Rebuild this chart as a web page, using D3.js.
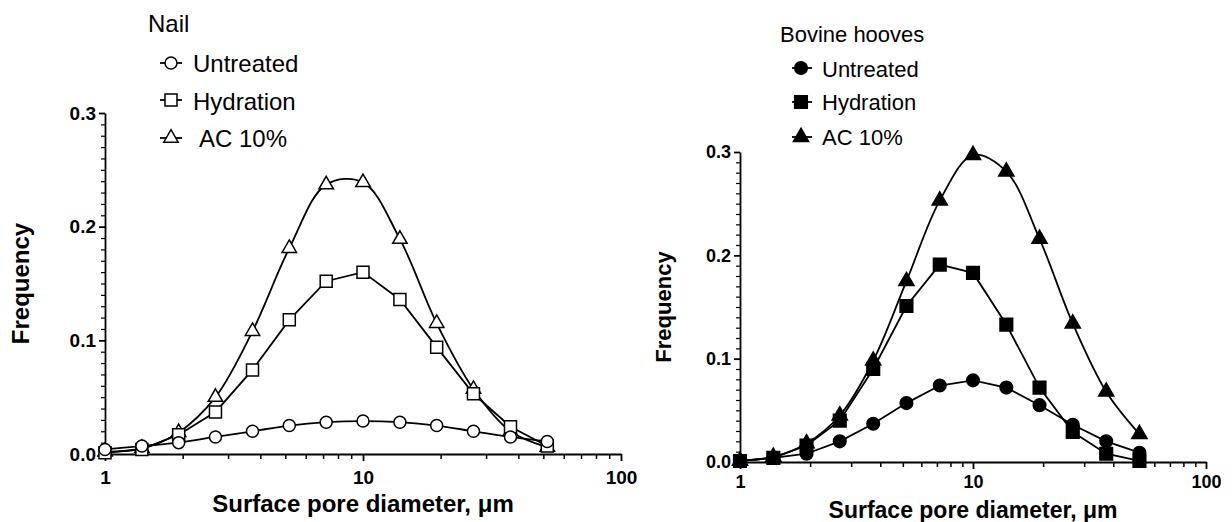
<!DOCTYPE html>
<html>
<head>
<meta charset="utf-8">
<script src="https://cdn.jsdelivr.net/npm/d3@7"></script>
<style>
  html, body { margin: 0; padding: 0; background: #fff; }
  svg { display: block; font-family: "Liberation Sans", Arial, sans-serif; }
</style>
</head>
<body>
<svg id="chart" width="1232" height="522"></svg>
<script>
// ---------- data ----------
const poreDiameters = [1, 1.39, 1.93, 2.68, 3.73, 5.18, 7.2, 10, 13.9, 19.3, 26.8, 37.3, 51.8];
const seriesNames = ["Untreated", "Hydration", "AC 10%"];

const nailUntreated = [0.004, 0.007, 0.010, 0.015, 0.020, 0.025, 0.028, 0.029, 0.028, 0.025, 0.020, 0.015, 0.011];
const nailHydration = [0.001, 0.004, 0.017, 0.037, 0.074, 0.118, 0.152, 0.160, 0.136, 0.094, 0.053, 0.024, 0.007];
const nailAC10      = [0.002, 0.005, 0.019, 0.050, 0.108, 0.181, 0.237, 0.239, 0.189, 0.115, 0.057, 0.020, 0.006];

const hoofUntreated = [0.001, 0.004, 0.008, 0.020, 0.037, 0.057, 0.074, 0.079, 0.072, 0.055, 0.036, 0.020, 0.009];
const hoofHydration = [0.001, 0.004, 0.016, 0.040, 0.090, 0.151, 0.191, 0.183, 0.133, 0.072, 0.029, 0.008, 0.001];
const hoofAC10      = [0.001, 0.005, 0.018, 0.045, 0.098, 0.175, 0.253, 0.297, 0.281, 0.216, 0.134, 0.068, 0.027];

const panelTitles = ["Nail", "Bovine hooves"];
const xTickValues = [1, 10, 100];
const yTickValues = [0.0, 0.1, 0.2, 0.3];
const xTitle = "Surface pore diameter, \u03bcm";
const yTitle = "Frequency";

// ---------- drawing ----------
const svg = d3.select("#chart");
const xMinor = [];
for (let d = 1; d < 100; d *= 10) for (let k = 2; k <= 9; k++) xMinor.push(d * k);
const yMinor = d3.range(0, 31).map(i => i / 100).filter(v => Math.round(v * 100) % 10 !== 0);

function drawPanel(cfg) {
  const g = svg.append("g");
  const x = d3.scaleLog().domain([1, 100]).range(cfg.xRange);
  const y = d3.scaleLinear().domain([0, 0.3]).range(cfg.yRange);
  const x0 = cfg.xRange[0], y0 = cfg.yRange[0];

  // minor ticks
  g.append("g").attr("transform", `translate(0,${y0})`)
    .call(d3.axisBottom(x).tickValues(xMinor).tickSize(5).tickSizeOuter(0).tickFormat(""))
    .call(a => a.select(".domain").remove())
    .selectAll("line").attr("stroke-width", 1.5);
  g.append("g").attr("transform", `translate(${x0},0)`)
    .call(d3.axisLeft(y).tickValues(yMinor).tickSize(4).tickSizeOuter(0).tickFormat(""))
    .call(a => a.select(".domain").remove())
    .selectAll("line").attr("stroke-width", 1.2);

  // major axes
  const xa = g.append("g").attr("transform", `translate(0,${y0})`)
    .call(d3.axisBottom(x).tickValues(xTickValues).tickSize(7).tickSizeOuter(0)
      .tickPadding(cfg.xTickPad).tickFormat(d3.format("d")));
  xa.select(".domain").attr("stroke-width", 1.8);
  xa.selectAll("line").attr("stroke-width", 1.8);
  xa.selectAll("text").attr("font-size", cfg.tickFont).attr("font-weight", "bold")
    .attr("font-family", "Liberation Sans, Arial, sans-serif");

  const ya = g.append("g").attr("transform", `translate(${x0},0)`)
    .call(d3.axisLeft(y).tickValues(yTickValues).tickSize(6).tickSizeOuter(0)
      .tickPadding(3).tickFormat(d3.format(".1f")));
  ya.select(".domain").attr("stroke-width", 1.8);
  ya.selectAll("line").attr("stroke-width", 1.8);
  ya.selectAll("text").attr("font-size", cfg.tickFont).attr("font-weight", "bold")
    .attr("font-family", "Liberation Sans, Arial, sans-serif");

  // axis titles
  g.append("text").attr("x", (cfg.xRange[0] + cfg.xRange[1]) / 2).attr("y", cfg.xTitleY)
    .attr("text-anchor", "middle").attr("font-weight", "bold").attr("font-size", cfg.xTitleFont)
    .text(xTitle);
  g.append("text")
    .attr("transform", `translate(${cfg.yTitleX},${(cfg.yRange[0] + cfg.yRange[1]) / 2}) rotate(-90)`)
    .attr("text-anchor", "middle").attr("font-weight", "bold").attr("font-size", cfg.yTitleFont)
    .text(yTitle);

  // series (drawn AC first so Untreated sits on top)
  const symbols = [d3.symbolCircle, d3.symbolSquare, d3.symbolTriangle];
  const order = [2, 1, 0];
  order.forEach(i => {
    const vals = cfg.series[i];
    const pts = poreDiameters.map((d, j) => [d, vals[j]]);
    const line = d3.line().x(d => x(d[0])).y(d => y(d[1]))
      .curve(cfg.smooth[i] ? d3.curveCatmullRom.alpha(0.5) : d3.curveLinear);
    g.append("path").datum(pts).attr("d", line)
      .attr("fill", "none").attr("stroke", "#000").attr("stroke-width", 1.8);
    g.selectAll(null).data(pts).enter().append("path")
      .attr("transform", d => `translate(${x(d[0])},${y(d[1])})`)
      .attr("d", d3.symbol().type(symbols[i]).size(cfg.symSize[i]))
      .attr("fill", cfg.filled ? "#000" : "#fff")
      .attr("stroke", "#000").attr("stroke-width", 1.5);
  });

  // legend
  const L = cfg.legend;
  g.append("text").attr("x", L.titleX).attr("y", L.titleY).attr("font-size", L.font).text(cfg.title);
  seriesNames.forEach((name, i) => {
    const cy = L.markY[i];
    g.append("line").attr("x1", L.lineX[0]).attr("x2", L.lineX[1]).attr("y1", cy).attr("y2", cy)
      .attr("stroke", "#000").attr("stroke-width", 1.8);
    g.append("path").attr("transform", `translate(${L.markX},${cy})`)
      .attr("d", d3.symbol().type(symbols[i]).size(cfg.symSize[i]))
      .attr("fill", cfg.filled ? "#000" : "#fff").attr("stroke", "#000").attr("stroke-width", 1.5);
    g.append("text").attr("x", L.textX[i]).attr("y", L.textY[i]).attr("font-size", L.font).text(name);
  });
}

drawPanel({
  title: panelTitles[0],
  xRange: [105, 621], yRange: [454, 113],
  series: [nailUntreated, nailHydration, nailAC10],
  smooth: [true, false, true],
  filled: false,
  symSize: [113, 144, 90],
  tickFont: 19, xTitleFont: 24, yTitleFont: 24, xTickPad: 10,
  xTitleY: 512, yTitleX: 29,
  legend: { titleX: 148, titleY: 32, font: 24, markX: 171, lineX: [160, 182],
            markY: [63, 100, 138], textX: [193, 193, 199], textY: [72, 110, 147] }
});

drawPanel({
  title: panelTitles[1],
  xRange: [740, 1206], yRange: [462, 152],
  series: [hoofUntreated, hoofHydration, hoofAC10],
  smooth: [false, false, true],
  filled: true,
  symSize: [125, 160, 100],
  tickFont: 18, xTitleFont: 23, yTitleFont: 22, xTickPad: 6,
  xTitleY: 518, yTitleX: 671,
  legend: { titleX: 780, titleY: 42, font: 22, markX: 801, lineX: [792, 812],
            markY: [68, 102, 137], textX: [822, 822, 822], textY: [77, 110, 145] }
});
</script>
</body>
</html>
